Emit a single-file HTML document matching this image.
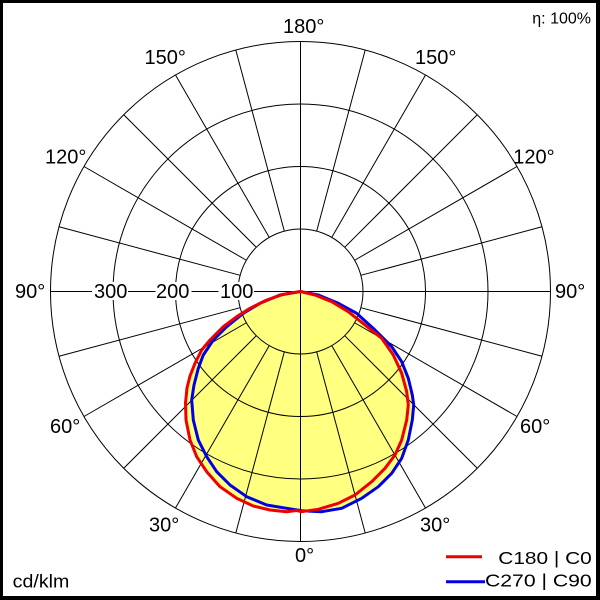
<!DOCTYPE html>
<html>
<head>
<meta charset="utf-8">
<style>
html,body{margin:0;padding:0;background:#000;}
svg{display:block;}
text{font-family:"Liberation Sans",Arial,sans-serif;fill:#000;}
</style>
</head>
<body>
<svg width="600" height="600" viewBox="0 0 600 600" xmlns="http://www.w3.org/2000/svg">
  <rect x="0" y="0" width="600" height="600" fill="#000"/>
  <rect x="3" y="3" width="593" height="593" fill="#fff"/>

  <!-- yellow fills -->
  <g fill="#ffff80" stroke="none">
    <polygon points="300.5,291.5 315,295 331.7,301.7 348.3,311.7 365,325 381.7,338.3 393.3,355 401.7,373.3 406.7,391.7 408.3,405 406.7,420 401.7,440 395,455 385,468.3 371.7,481.7 355,495 338.3,503.3 318.3,509.3 301.7,511.7 296.7,510.5 286.7,511.7 270,510 253.3,506 236.7,498.3 220,486.7 206.7,471.7 196.7,456.7 190,440 186,420 185.5,403 187,388 190,376 195,363.3 201.7,350 210,340 223.3,326.7 236.7,316.7 250,308.3 266.7,300 283.3,294.3"/>
    <polygon points="300.5,291.5 318.3,295 338.3,303.3 356.7,313.3 375,330 391.7,346.7 401.7,361.7 408.3,378.3 412.3,395 413.7,405 412.3,420 408.3,440 401.7,458.3 391.7,473.3 378.3,486.7 361.7,498.3 341.7,508.3 321.7,511.7 301.7,510.7 286.7,508.3 266.7,505 246.7,496.7 230,485 216.7,471.7 206.7,456.7 198.3,440 193.3,420 191.7,400 194,385 198.3,368.3 203.3,355 213.3,340 226.7,326.7 243.3,313.3 260,303.3 280,295"/>
  </g>

  <!-- grid -->
  <g stroke="#000" stroke-width="1" fill="none">
    <circle cx="300.5" cy="291.5" r="62.5"/>
    <circle cx="300.5" cy="291.5" r="125"/>
    <circle cx="300.5" cy="291.5" r="187.5"/>
    <circle cx="300.5" cy="291.5" r="250"/>
    <line x1="300.5" y1="41.5" x2="300.5" y2="541.5"/>
    <line x1="50.5" y1="291.5" x2="550.5" y2="291.5"/>
    <g transform="translate(300.5,291.5)">
      <line x1="0" y1="62.5" x2="0" y2="250" transform="rotate(15)"/>
      <line x1="0" y1="62.5" x2="0" y2="250" transform="rotate(30)"/>
      <line x1="0" y1="62.5" x2="0" y2="250" transform="rotate(45)"/>
      <line x1="0" y1="62.5" x2="0" y2="250" transform="rotate(60)"/>
      <line x1="0" y1="62.5" x2="0" y2="250" transform="rotate(75)"/>
      <line x1="0" y1="62.5" x2="0" y2="250" transform="rotate(105)"/>
      <line x1="0" y1="62.5" x2="0" y2="250" transform="rotate(120)"/>
      <line x1="0" y1="62.5" x2="0" y2="250" transform="rotate(135)"/>
      <line x1="0" y1="62.5" x2="0" y2="250" transform="rotate(150)"/>
      <line x1="0" y1="62.5" x2="0" y2="250" transform="rotate(165)"/>
      <line x1="0" y1="62.5" x2="0" y2="250" transform="rotate(-15)"/>
      <line x1="0" y1="62.5" x2="0" y2="250" transform="rotate(-30)"/>
      <line x1="0" y1="62.5" x2="0" y2="250" transform="rotate(-45)"/>
      <line x1="0" y1="62.5" x2="0" y2="250" transform="rotate(-60)"/>
      <line x1="0" y1="62.5" x2="0" y2="250" transform="rotate(-75)"/>
      <line x1="0" y1="62.5" x2="0" y2="250" transform="rotate(-105)"/>
      <line x1="0" y1="62.5" x2="0" y2="250" transform="rotate(-120)"/>
      <line x1="0" y1="62.5" x2="0" y2="250" transform="rotate(-135)"/>
      <line x1="0" y1="62.5" x2="0" y2="250" transform="rotate(-150)"/>
      <line x1="0" y1="62.5" x2="0" y2="250" transform="rotate(-165)"/>
    </g>
  </g>

  <!-- axis label backgrounds -->
  <g fill="#fff">
    <rect x="92" y="282" width="36" height="18"/>
    <rect x="155.5" y="282" width="36" height="18"/>
    <rect x="218.5" y="282" width="35.5" height="18"/>
  </g>

  <!-- labels -->
  <g font-size="20">
    <text x="94" y="298">300</text>
    <text x="156" y="298">200</text>
    <text x="220" y="298">100</text>

    <text x="283" y="33">180°</text>
    <text x="144.5" y="64">150°</text>
    <text x="415" y="64">150°</text>
    <text x="45" y="163.3">120°</text>
    <text x="513.3" y="163.3">120°</text>
    <text x="15" y="298">90°</text>
    <text x="555" y="298">90°</text>
    <text x="50" y="433">60°</text>
    <text x="520" y="433">60°</text>
    <text x="149" y="531.7">30°</text>
    <text x="420" y="531.7">30°</text>
    <text x="295" y="562">0°</text>
  </g>

  <text x="591" y="23.5" font-size="16" text-anchor="end">η: 100%</text>
  <text x="12.7" y="587.3" font-size="18" textLength="56.6" lengthAdjust="spacingAndGlyphs">cd/klm</text>

  <!-- curves -->
  <g fill="none" stroke-width="3" stroke-linejoin="round" stroke-linecap="round">
    <polygon stroke="#0000e6" points="300.5,291.5 318.3,295 338.3,303.3 356.7,313.3 375,330 391.7,346.7 401.7,361.7 408.3,378.3 412.3,395 413.7,405 412.3,420 408.3,440 401.7,458.3 391.7,473.3 378.3,486.7 361.7,498.3 341.7,508.3 321.7,511.7 301.7,510.7 286.7,508.3 266.7,505 246.7,496.7 230,485 216.7,471.7 206.7,456.7 198.3,440 193.3,420 191.7,400 194,385 198.3,368.3 203.3,355 213.3,340 226.7,326.7 243.3,313.3 260,303.3 280,295"/>
    <polygon stroke="#ee0000" points="300.5,291.5 315,295 331.7,301.7 348.3,311.7 365,325 381.7,338.3 393.3,355 401.7,373.3 406.7,391.7 408.3,405 406.7,420 401.7,440 395,455 385,468.3 371.7,481.7 355,495 338.3,503.3 318.3,509.3 301.7,511.7 296.7,510.5 286.7,511.7 270,510 253.3,506 236.7,498.3 220,486.7 206.7,471.7 196.7,456.7 190,440 186,420 185.5,403 187,388 190,376 195,363.3 201.7,350 210,340 223.3,326.7 236.7,316.7 250,308.3 266.7,300 283.3,294.3"/>
  </g>

  <!-- legend -->
  <line x1="446" y1="556.7" x2="482" y2="556.7" stroke="#ee0000" stroke-width="3"/>
  <line x1="446" y1="581.7" x2="485" y2="581.7" stroke="#0000e6" stroke-width="3"/>
  <text x="498.3" y="564" font-size="17.5" textLength="93.4" lengthAdjust="spacingAndGlyphs">C180 | C0</text>
  <text x="485" y="586.7" font-size="17.5" textLength="106.7" lengthAdjust="spacingAndGlyphs">C270 | C90</text>
</svg>
</body>
</html>
